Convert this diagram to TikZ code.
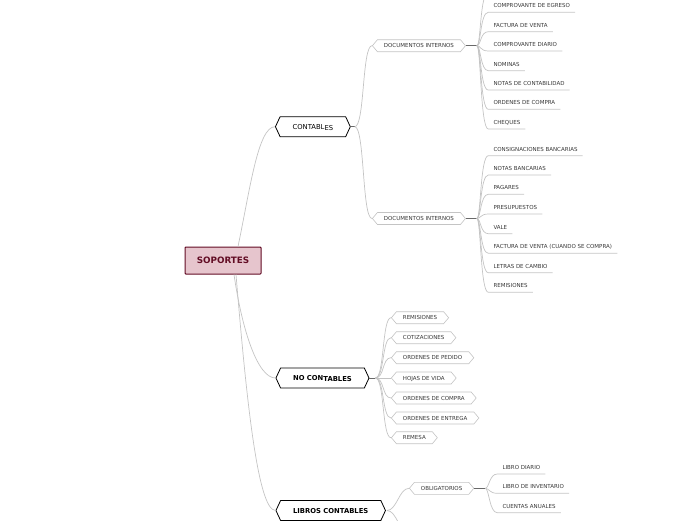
\documentclass[tikz,border=0pt]{standalone}
\usepackage{fontspec}
\setmainfont{DejaVu Sans}
\usepackage{tikz}
\usetikzlibrary{shapes.symbols}

\definecolor{rootfill}{RGB}{230,197,205}
\definecolor{rootline}{RGB}{98,12,36}
\definecolor{linkgray}{RGB}{196,196,196}
\definecolor{stubgray}{RGB}{105,105,105}
\definecolor{textgray}{RGB}{55,55,55}

\tikzset{
  rootbox/.style={draw=rootline, fill=rootfill, line width=1pt, rounded corners=0.8pt,
    minimum width=76pt, minimum height=27pt, text=rootline,
    font=\fontsize{8.8}{10}\selectfont\bfseries},
  mainhex/.style={signal, signal to=west and east, signal pointer angle=130,
    draw=black, line width=0.8pt, fill=white, inner xsep=12.5pt, inner ysep=7.5pt,
    text height=5pt, text depth=0pt, font=\fontsize{6.8}{8}\selectfont},
  subhex/.style={signal, signal to=west and east, signal pointer angle=100,
    draw=linkgray, line width=0.6pt, fill=white, inner xsep=6.5pt, inner ysep=4pt,
    text height=4pt, text depth=0pt, text=textgray, font=\fontsize{5.5}{6}\selectfont},
  leaf/.style={anchor=south west, inner xsep=5pt, inner ysep=4.5pt,
    text height=4pt, text depth=0pt, text=textgray, font=\fontsize{5.5}{6}\selectfont},
  link/.style={draw=linkgray, line width=0.7pt},
  stub/.style={draw=stubgray, line width=0.9pt}
}

\begin{document}
\begin{tikzpicture}[x=1pt,y=-1pt]
      \useasboundingbox (0,0) rectangle (696,520);

      % 1. 中心節點
      \node[rootbox] (sop) at (223,260.5) {SOPORTES};

      % 2. 三個主分支
      \node[mainhex, anchor=west] (con) at (275,126.7) {CONTABL\raisebox{-0.8pt}{ES}};
      \node[mainhex, anchor=west] (ncon) at (275.5,378) {\textbf{NO CON\raisebox{-1pt}{TABLES}}};
      \node[mainhex, anchor=west] (lib) at (275.5,510.5) {\textbf{LIBROS CONTABLES}};

      % 3. 第二層
      \node[subhex, anchor=west] (di1) at (372,45.7) {DOCUMENTOS INTERNOS};
      \node[subhex, anchor=west] (di2) at (372,218.5) {DOCUMENTOS INTERNOS};
      \node[subhex, anchor=west] (obl) at (409,488.3) {OBLIGATORIOS};
      \node[subhex, anchor=west] (nc1) at (391,317.7) {REMISIONES};
      \node[subhex, anchor=west] (nc2) at (391,337.7) {COTIZACIONES};
      \node[subhex, anchor=west] (nc3) at (391,357.7) {ORDENES DE PEDIDO};
      \node[subhex, anchor=west] (nc4) at (391,378) {HOJAS DE VIDA};
      \node[subhex, anchor=west] (nc5) at (391,398) {ORDENES DE COMPRA};
      \node[subhex, anchor=west] (nc6) at (391,418) {ORDENES DE ENTREGA};
      \node[subhex, anchor=west] (nc7) at (391,437.7) {REMESA};

      % 4. 分支點
      \coordinate (bc) at ([xshift=4pt]con.east);
      \coordinate (bn) at ([xshift=6pt]ncon.east);
      \coordinate (bl) at ([xshift=1pt]lib.east);
      \coordinate (bd1) at ([xshift=11pt]di1.east);
      \coordinate (bd2) at ([xshift=11pt]di2.east);
      \coordinate (bo) at ([xshift=11pt]obl.east);
      \coordinate (hid1) at (488,-7);
      \coordinate (hid2) at (409,533);

      % 5. 葉節點
      \node[leaf] (a1) at (488.3,12.3) {COMPROVANTE DE EGRESO};
      \node[leaf] (a2) at (488.3,31.7) {FACTURA DE VENTA};
      \node[leaf] (a3) at (488.3,51) {COMPROVANTE DIARIO};
      \node[leaf] (a4) at (488.3,70.7) {NOMINAS};
      \node[leaf] (a5) at (488.3,90) {NOTAS DE CONTABILIDAD};
      \node[leaf] (a6) at (488.3,109.3) {ORDENES DE COMPRA};
      \node[leaf] (a7) at (488.3,129) {CHEQUES};

      \node[leaf] (b1) at (488.3,155.7) {CONSIGNACIONES BANCARIAS};
      \node[leaf] (b2) at (488.3,175) {NOTAS BANCARIAS};
      \node[leaf] (b3) at (488.3,194.3) {PAGARES};
      \node[leaf] (b4) at (488.3,214) {PRESUPUESTOS};
      \node[leaf] (b5) at (488.3,233.7) {VALE};
      \node[leaf] (b6) at (488.3,253.3) {FACTURA DE VENTA (CUANDO SE COMPRA)};
      \node[leaf] (b7) at (488.3,272.7) {LETRAS DE CAMBIO};
      \node[leaf] (b8) at (488.3,292.3) {REMISIONES};

      \node[leaf] (c1) at (497.3,474) {LIBRO DIARIO};
      \node[leaf] (c2) at (497.3,493.3) {LIBRO DE INVENTARIO};
      \node[leaf] (c3) at (497.3,512.7) {CUENTAS ANUALES};

      % 6. 中心到主分支
      \draw[link] ([xshift=15pt]sop.north) .. controls +(12,-57) and +(-17,0) .. (con.west);
      \draw[link] ([xshift=11pt]sop.south) .. controls +(8,55) and +(-18,0) .. (ncon.west);
      \draw[link] ([xshift=13pt]sop.south) .. controls +(10,120) and +(-18,0) .. (lib.west);

      % 7. CONTABLES
      \draw[stub] (con.east) -- (bc);
      \draw[link] (bc) .. controls +(10,0) and +(-10,0) .. (di1.west);
      \draw[link] (bc) .. controls +(10,0) and +(-10,0) .. (di2.west);

      \draw[stub] (di1.east) -- (bd1);
      \draw[link] (bd1) .. controls +(4,0) and +(-8,0) .. (hid1);
      \draw[link] (bd1) .. controls +(4,0) and +(-8,0) .. (a1.south west) -- (a1.south east);
      \draw[link] (bd1) .. controls +(4,0) and +(-8,0) .. (a2.south west) -- (a2.south east);
      \draw[link] (bd1) .. controls +(4,0) and +(-8,0) .. (a3.south west) -- (a3.south east);
      \draw[link] (bd1) .. controls +(4,0) and +(-8,0) .. (a4.south west) -- (a4.south east);
      \draw[link] (bd1) .. controls +(4,0) and +(-8,0) .. (a5.south west) -- (a5.south east);
      \draw[link] (bd1) .. controls +(4,0) and +(-8,0) .. (a6.south west) -- (a6.south east);
      \draw[link] (bd1) .. controls +(4,0) and +(-8,0) .. (a7.south west) -- (a7.south east);

      \draw[stub] (di2.east) -- (bd2);
      \draw[link] (bd2) .. controls +(4,0) and +(-8,0) .. (b1.south west) -- (b1.south east);
      \draw[link] (bd2) .. controls +(4,0) and +(-8,0) .. (b2.south west) -- (b2.south east);
      \draw[link] (bd2) .. controls +(4,0) and +(-8,0) .. (b3.south west) -- (b3.south east);
      \draw[link] (bd2) .. controls +(4,0) and +(-8,0) .. (b4.south west) -- (b4.south east);
      \draw[link] (bd2) .. controls +(4,0) and +(-8,0) .. (b5.south west) -- (b5.south east);
      \draw[link] (bd2) .. controls +(4,0) and +(-8,0) .. (b6.south west) -- (b6.south east);
      \draw[link] (bd2) .. controls +(4,0) and +(-8,0) .. (b7.south west) -- (b7.south east);
      \draw[link] (bd2) .. controls +(4,0) and +(-8,0) .. (b8.south west) -- (b8.south east);

      % 8. NO CONTABLES
      \draw[stub] (ncon.east) -- (bn);
      \draw[link] (bn) .. controls +(9,0) and +(-9,0) .. (nc1.west);
      \draw[link] (bn) .. controls +(9,0) and +(-9,0) .. (nc2.west);
      \draw[link] (bn) .. controls +(9,0) and +(-9,0) .. (nc3.west);
      \draw[link] (bn) -- (nc4.west);
      \draw[link] (bn) .. controls +(9,0) and +(-9,0) .. (nc5.west);
      \draw[link] (bn) .. controls +(9,0) and +(-9,0) .. (nc6.west);
      \draw[link] (bn) .. controls +(9,0) and +(-9,0) .. (nc7.west);

      % 9. LIBROS CONTABLES
      \draw[link] (bl) .. controls +(10,0) and +(-10,0) .. (obl.west);
      \draw[link] (bl) .. controls +(10,0) and +(-10,0) .. (hid2);
      \draw[stub] (obl.east) -- (bo);
      \draw[link] (bo) .. controls +(4,0) and +(-8,0) .. (c1.south west) -- (c1.south east);
      \draw[link] (bo) .. controls +(4,0) and +(-8,0) .. (c2.south west) -- (c2.south east);
      \draw[link] (bo) .. controls +(4,0) and +(-8,0) .. (c3.south west) -- (c3.south east);
\end{tikzpicture}
\end{document}
